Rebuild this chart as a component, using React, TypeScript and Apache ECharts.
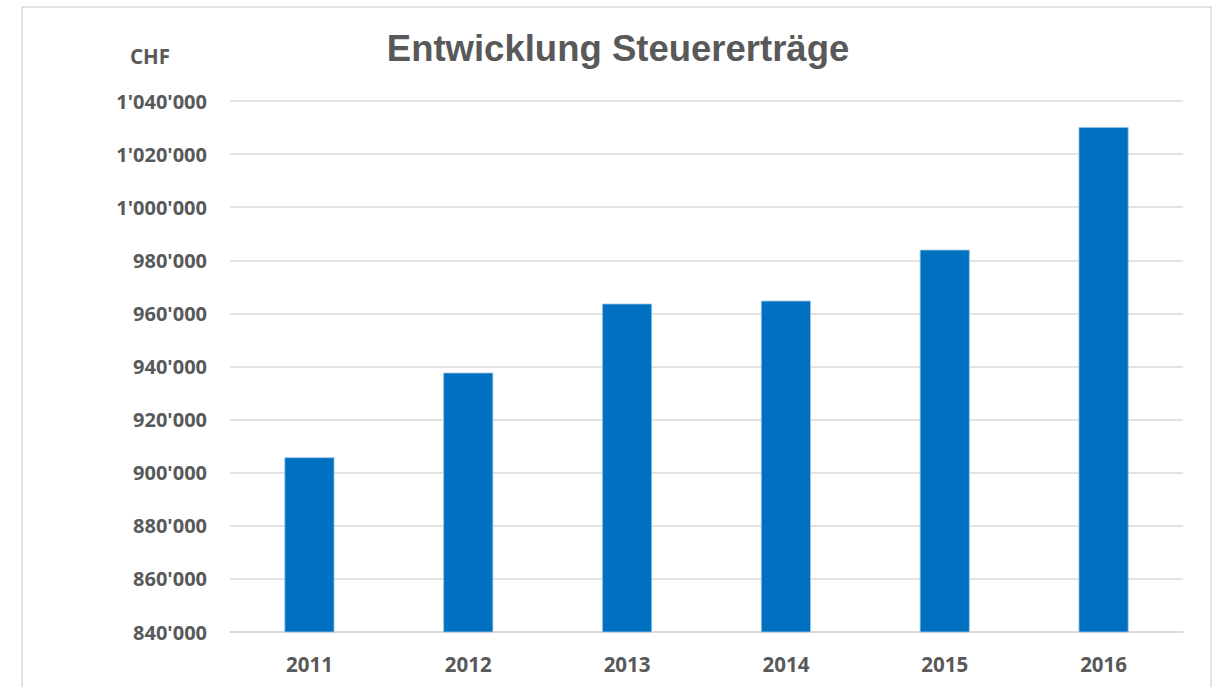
import React, { useEffect, useRef } from "react";
import * as echarts from "echarts";

const years = ["2011", "2012", "2013", "2014", "2015", "2016"];
const steuerertraege = [905800, 937700, 963700, 964800, 984000, 1030200];
const titleText = "Entwicklung Steuererträge";
const unitLabel = "CHF";

const fmt = (v: number) => String(Math.round(v)).replace(/\B(?=(\d{3})+(?!\d))/g, "'");

export default function App() {
  const ref = useRef<HTMLDivElement>(null);
  useEffect(() => {
    if (!ref.current) return;
    const chart = echarts.init(ref.current, null, { renderer: "svg" });
    const font = "'Open Sans', 'Liberation Sans', sans-serif";
    const titleFont = "'Liberation Sans', Arial, sans-serif";
    chart.setOption({
      animation: false,
      backgroundColor: "#ffffff",
      textStyle: { fontFamily: font },
      title: {
        text: titleText,
        left: 613,
        textAlign: "center",
        top: 25,
        textStyle: { fontSize: 36.5, fontWeight: "bold", color: "#595959", fontFamily: titleFont },
      },
      graphic: [
        {
          type: "rect",
          shape: { x: 22, y: 7, width: 1189, height: 720 },
          style: { fill: "none", stroke: "#D9D9D9", lineWidth: 1.5 },
          silent: true,
        },
        {
          type: "text",
          x: 150,
          y: 56,
          style: {
            text: unitLabel,
            fontSize: 20.5,
            fontWeight: "bold",
            fill: "#595959",
            fontFamily: font,
            align: "center",
            verticalAlign: "middle",
          },
        },
      ],
      grid: { left: 230, right: 37, top: 101, bottom: 55, containLabel: false },
      xAxis: {
        type: "category",
        data: years,
        axisLine: { show: true, lineStyle: { color: "#D9D9D9", width: 1.5 } },
        axisTick: { show: false },
        axisLabel: { color: "#595959", fontWeight: "bold", fontSize: 20.5, margin: 21, fontFamily: font },
      },
      yAxis: {
        type: "value",
        min: 840000,
        max: 1040000,
        interval: 20000,
        axisLine: { show: false },
        axisTick: { show: false },
        splitLine: { lineStyle: { color: "#D9D9D9", width: 1.5 } },
        axisLabel: {
          color: "#595959",
          fontWeight: "bold",
          fontSize: 20,
          margin: 23,
          fontFamily: font,
          formatter: (v: number) => fmt(v),
        },
      },
      series: [
        {
          type: "bar",
          data: steuerertraege,
          barWidth: 50,
          itemStyle: { color: "#0070C0", borderColor: "#9CC3E6", borderWidth: 0.8 },
        },
      ],
    });
    return () => chart.dispose();
  }, []);
  return (
    <div
      ref={ref}
      style={{ position: "fixed", left: 0, top: 0, width: 1220, height: 687 }}
    />
  );
}
